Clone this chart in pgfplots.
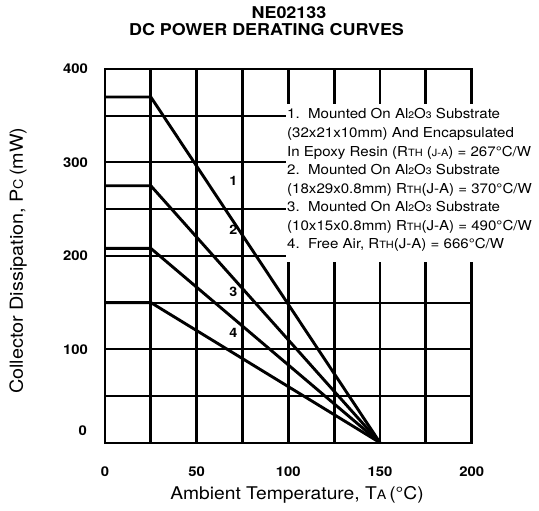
\documentclass[border=0pt]{standalone}
\usepackage{fontspec}
\setmainfont{TeX Gyre Heros}[FakeStretch=1.1]
\usepackage{pgfplots}
\pgfplotsset{compat=1.18}
\newcommand{\smx}[2]{{\fontsize{#1}{#1}\selectfont #2}}
\newcommand{\lgd}{\fontsize{13.7}{14}\selectfont}
\begin{document}
\begin{tikzpicture}
\path[use as bounding box] (-105pt,-68.3pt) rectangle (434pt,442.7pt);
\begin{axis}[
  at={(0pt,0pt)}, anchor=south west,
  scale only axis, width=366.7pt, height=373.7pt,
  xmin=0, xmax=200, ymin=0, ymax=400,
  xtick={0,50,...,200}, ytick={0,100,...,400},
  minor xtick={25,75,125,175}, minor ytick={50,150,250,350},
  yticklabels={,100,200,300,400},
  xmajorgrids, xminorgrids, ymajorgrids, yminorgrids,
  major x grid style={black, line width=2.8pt},
  minor x grid style={black, line width=2.8pt},
  major y grid style={black, line width=2pt},
  minor y grid style={black, line width=2pt},
  major tick length=0pt, minor tick length=0pt,
  axis line style={black, line width=1.8pt},
  /pgf/number format/assume math mode=true,
  ticklabel style={font=\bfseries\fontsize{13.5}{14}\selectfont},
  xticklabel style={yshift=-20pt},
  yticklabel style={xshift=-13.5pt},
  clip=false,
]
\addplot[black, line width=2.9pt, line cap=butt] coordinates {(0,370) (25,370) (150,0)};
\addplot[black, line width=2.9pt, line cap=butt] coordinates {(0,275) (25,275) (150,0)};
\addplot[black, line width=2.9pt, line cap=butt] coordinates {(0,208) (25,208) (150,0)};
\addplot[black, line width=2.9pt, line cap=butt] coordinates {(0,150) (25,150) (150,0)};
\node[font=\bfseries\fontsize{13}{13}\selectfont] at (axis cs:70,280) {1};
\node[font=\bfseries\fontsize{13}{13}\selectfont] at (axis cs:70,228) {2};
\node[font=\bfseries\fontsize{13}{13}\selectfont] at (axis cs:70,161) {3};
\node[font=\bfseries\fontsize{13}{13}\selectfont] at (axis cs:70,118) {4};
\node[anchor=east, inner sep=0pt, font=\bfseries\fontsize{13.5}{14}\selectfont] at (axis cs:0,0) [xshift=-18pt, yshift=12pt] {0};
\end{axis}
\fill[white] (181pt,180.7pt) rectangle (440pt,338.7pt);
\begin{scope}[every node/.style={anchor=base west, inner sep=0pt, font=\lgd}]
\node at (182pt,323.7pt) {1.~~Mounted On Al\smx{9.5}{2}O\smx{9.5}{3} Substrate};
\node at (182pt,305.13pt) {(32x21x10mm) And Encapsulated};
\node at (182pt,286.56pt) {In Epoxy Resin (R\smx{10}{TH} (\smx{10}{J-A}) = 267\textdegree C/W};
\node at (182pt,267.99pt) {2.~~Mounted On Al\smx{9.5}{2}O\smx{9.5}{3} Substrate};
\node at (182pt,249.42pt) {(18x29x0.8mm) R\smx{10}{TH}(J-A) = 370\textdegree C/W};
\node at (182pt,230.85pt) {3.~~Mounted On Al\smx{9.5}{2}O\smx{9.5}{3} Substrate};
\node at (182pt,212.28pt) {(10x15x0.8mm) R\smx{10}{TH}(J-A) = 490\textdegree C/W};
\node at (182pt,193.71pt) {4.~~Free Air, R\smx{10}{TH}(J-A) = 666\textdegree C/W};
\end{scope}
\node[font=\bfseries\fontsize{16.3}{16}\selectfont] at (184pt,430.2pt) {NE02133};
\node[font=\bfseries\fontsize{16.3}{16}\selectfont] at (161.5pt,412.7pt) {DC POWER DERATING CURVES};
\node[anchor=base, inner sep=0pt, font=\fontsize{17.5}{18}\selectfont] at (192pt,-57.3pt) {Ambient Temperature, T\smx{13}{A}\,(\textdegree C)};
\node[rotate=90, font=\fontsize{18}{18}\selectfont] at (-87pt,182pt) {Collector Dissipation, P\smx{13}{C}\,(mW)};
\end{tikzpicture}
\end{document}
